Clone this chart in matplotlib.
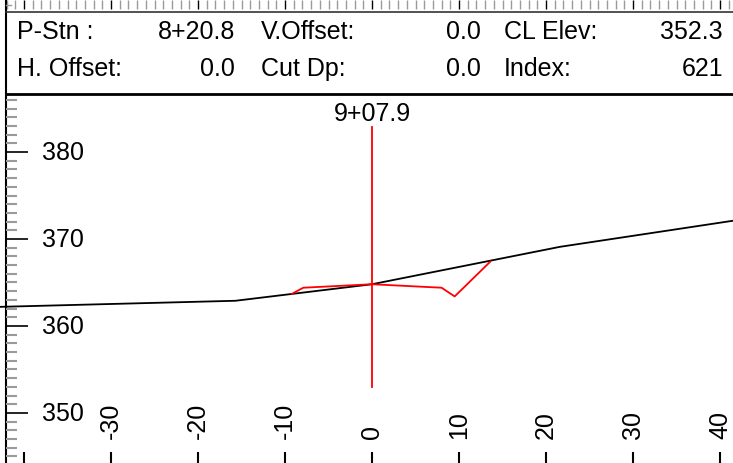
import matplotlib
matplotlib.use('Agg')
import matplotlib.pyplot as plt
import numpy as np
from matplotlib.transforms import blended_transform_factory

plt.rcParams['font.family'] = ['Liberation Sans', 'DejaVu Sans']

# ---------------- data ----------------
ground_x = [-42.8, -15.7, 0.0, 21.6, 41.5]
ground_y = [362.2, 362.9, 364.8, 369.1, 372.1]

design_x = [-9.2, -7.9, 0.0, 8.0, 9.5, 13.6]
design_y = [363.7, 364.4, 364.8, 364.4, 363.4, 367.4]

cl_x = 0.0
cl_y = [353.0, 382.9]
cl_label = '9+07.9'

x_ticks = [-40, -30, -20, -10, 0, 10, 20, 30, 40]
x_tick_labels = ['', '-30', '-20', '-10', '0', '10', '20', '30', '40']
y_ticks = [350, 360, 370, 380]
y_tick_labels = ['350', '360', '370', '380']

header_row1 = [('P-Stn :', '8+20.8'), ('V.Offset:', '0.0'), ('CL Elev:', '352.3')]
header_row2 = [('H. Offset:', '0.0'), ('Cut Dp:', '0.0'), ('Index:', '621')]

# ---------------- layout ----------------
W, H, DPI = 733, 463, 100
PPU = 8.7          # pixels per unit
X0_PX = 372        # pixel of x=0
Y380_PX = 152      # pixel of y=380

fig = plt.figure(figsize=(W / DPI, H / DPI), dpi=DPI)
fig.patch.set_facecolor('white')
ax = fig.add_axes([0, 0, 1, 1])
ax.set_axis_off()
ax.set_xlim(-X0_PX / PPU, (W - X0_PX) / PPU)
ax.set_ylim(380 - (H - Y380_PX) / PPU, 380 + Y380_PX / PPU)

def fx(px):
    return px / W

def fy(py):
    return 1 - py / H

tr_xdata_yfig = blended_transform_factory(ax.transData, fig.transFigure)
tr_xfig_ydata = blended_transform_factory(fig.transFigure, ax.transData)

FS = 18
GRAY = '#9a9a9a'

# top ruler
xmin, xmax = ax.get_xlim()
for k in range(int(np.floor(xmin)), int(np.ceil(xmax)) + 1):
    major = (k % 10 == 0)
    ax.plot([k, k], [fy(0), fy(9)], transform=tr_xdata_yfig,
            color='black' if major else GRAY, lw=1.0,
            solid_capstyle='butt', clip_on=False)

# left vertical line
ax.plot([fx(5.5), fx(5.5)], [fy(0), fy(H)], transform=fig.transFigure,
        color='black', lw=1.5, clip_on=False)
ax.plot([fx(5.5), fx(11)], [fy(5), fy(5)], transform=fig.transFigure,
        color=GRAY, lw=1.0, clip_on=False)

# header box lines
ax.plot([fx(5.5), fx(W)], [fy(12), fy(12)], transform=fig.transFigure,
        color='#333333', lw=1.2, clip_on=False)
ax.plot([fx(5.5), fx(W)], [fy(93.5), fy(93.5)], transform=fig.transFigure,
        color='black', lw=2.0, clip_on=False)

# header text
col_left = [17, 261, 504]
col_right = [235, 481, 723]
for row, base in ((header_row1, 39), (header_row2, 76)):
    for (lab, val), xl, xr in zip(row, col_left, col_right):
        fig.text(fx(xl), fy(base), lab, ha='left', va='baseline', fontsize=FS)
        fig.text(fx(xr), fy(base), val, ha='right', va='baseline', fontsize=FS)

# left ruler
ytop = 380 + (Y380_PX - 96) / PPU
ymin, _ = ax.get_ylim()
for v in range(int(np.ceil(ymin)), int(np.floor(ytop)) + 1):
    major = (v % 10 == 0)
    ax.plot([fx(5.5), fx(28 if major else 17)], [v, v], transform=tr_xfig_ydata,
            color='black' if major else GRAY, lw=1.2 if major else 1.5,
            solid_capstyle='butt', clip_on=False)

# y tick labels
for v, lab in zip(y_ticks, y_tick_labels):
    ax.text(fx(42), v - 8.5 / PPU, lab, transform=tr_xfig_ydata,
            ha='left', va='baseline', fontsize=FS)

# bottom ticks and x labels
for v, lab in zip(x_ticks, x_tick_labels):
    ax.plot([v, v], [fy(452), fy(H)], transform=tr_xdata_yfig,
            color='black', lw=1.5, solid_capstyle='butt', clip_on=False)
    if lab:
        ax.text(v, fy(439), lab, transform=tr_xdata_yfig, rotation=90,
                rotation_mode='anchor', ha='left', va='center', fontsize=FS)

# profile lines
ax.plot(ground_x, ground_y, color='black', lw=1.3)
ax.plot(design_x, design_y, color='#ff0000', lw=1.3)
ax.plot([cl_x, cl_x], cl_y, color='#ff0000', lw=1.3)
ax.text(cl_x, cl_y[1] + 6 / PPU, cl_label, ha='center', va='baseline', fontsize=FS)

fig.savefig('out.png', dpi=DPI, facecolor='white')
